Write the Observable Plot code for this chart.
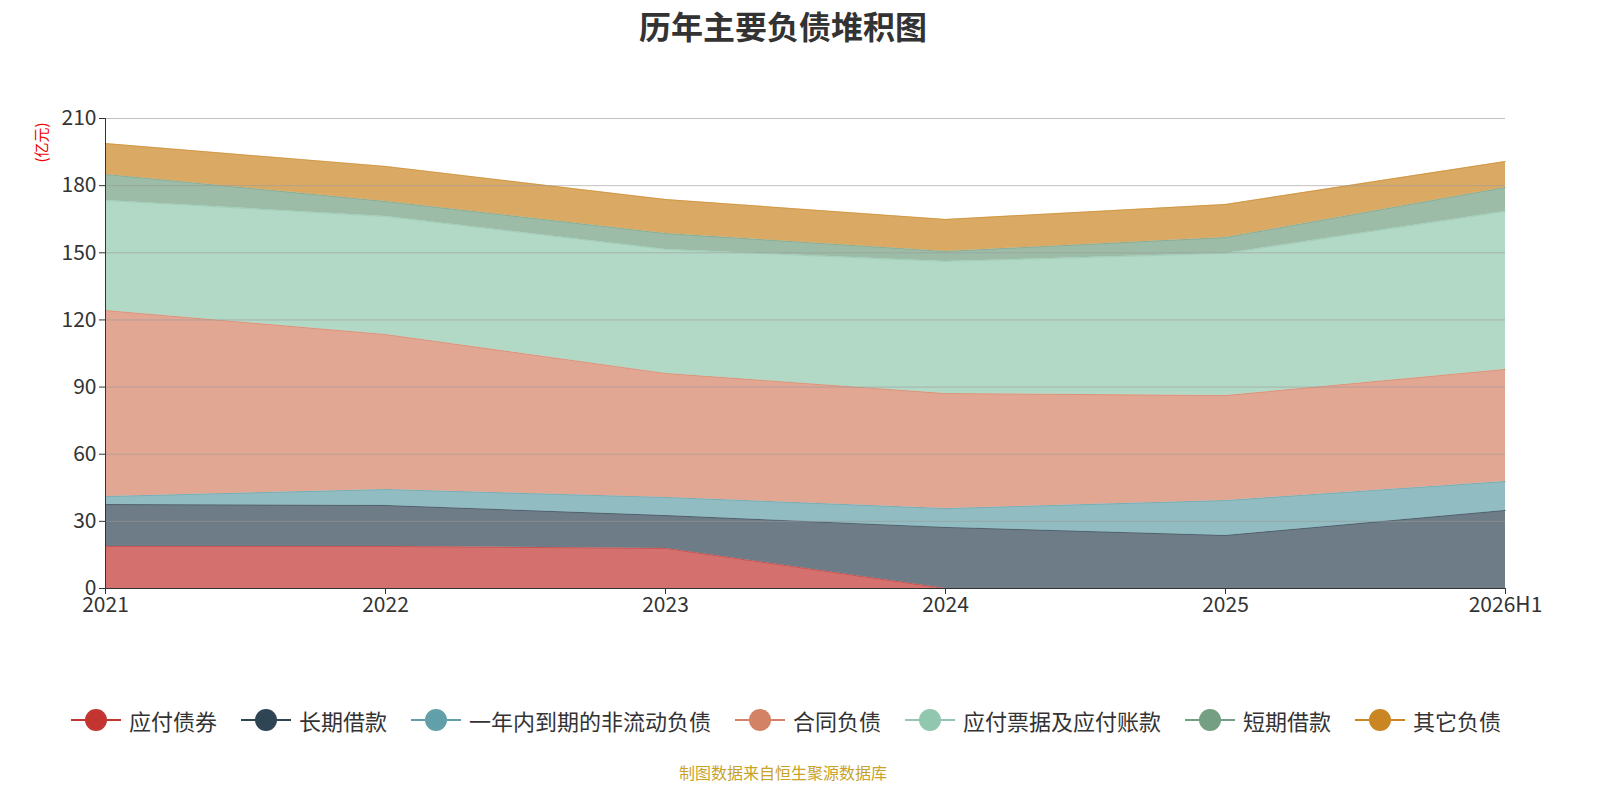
<!DOCTYPE html>
<html><head><meta charset="utf-8">
<script src="https://cdn.jsdelivr.net/npm/d3@7"></script>
<script src="https://cdn.jsdelivr.net/npm/@observablehq/plot@0.6"></script>
<style>
html,body{overflow:hidden}
body{margin:0;width:1600px;height:800px;position:relative;font-family:"Noto Sans CJK SC","Noto Sans",sans-serif;background:#fff}
#title{position:absolute;top:2px;left:0;width:1566px;text-align:center;font-size:32px;font-weight:bold;color:#333}
#chart{position:absolute;top:0;left:0}
#chart svg{max-width:none}
#legend{position:absolute;top:704px;left:0;width:1572px;display:flex;justify-content:center;gap:24px;font-size:22px;color:#333}
.li{display:flex;align-items:center;gap:8px}
#cap{position:absolute;top:760px;left:0;width:1566px;text-align:center;font-size:16px;color:#c9a227}
#ylab{position:absolute;left:20px;top:132px;color:#e00;font-size:15px;transform:rotate(-90deg);transform-origin:center;white-space:nowrap}
</style></head><body>
<div id="title">历年主要负债堆积图</div>
<div id="chart"></div>
<div id="ylab">(亿元)</div>
<div id="legend"></div>
<div id="cap">制图数据来自恒生聚源数据库</div>
<script>
const years=["2021","2022","2023","2024","2025","2026H1"];
const seriesNames=["应付债券","长期借款","一年内到期的非流动负债","合同负债","应付票据及应付账款","短期借款","其它负债"];
const colors=["#c23531","#2f4554","#61a0a8","#d48265","#91c7ae","#749f83","#ca8622"];
const s应付债券=[18.8,18.8,17.9,0,0,0];
const s长期借款=[18.7,18.3,14.7,27.3,23.7,34.9];
const s一年内=[3.6,7.1,8.1,8.4,15.6,12.9];
const s合同负债=[83.1,69.3,55.4,51.4,46.9,50.1];
const s应付票据=[49.2,52.7,55.4,59.0,63.5,70.6];
const s短期借款=[11.6,6.7,7.1,4.5,7.1,10.7];
const s其它=[13.8,15.7,15.2,14.3,14.8,11.6];
const vals=[s应付债券,s长期借款,s一年内,s合同负债,s应付票据,s短期借款,s其它];
const data=[];
seriesNames.forEach((s,i)=>years.forEach((y,j)=>data.push({year:y,series:s,value:vals[i][j]})));
const st={x:"year",y:"value",z:"series",order:seriesNames};
const plot=Plot.plot({
  width:1600,height:650,marginLeft:105,marginRight:95,marginTop:118,marginBottom:62,
  style:{fontSize:"20px",fontFamily:"Noto Sans CJK SC, sans-serif",color:"#333"},
  x:{type:"point",domain:years,padding:0,label:null,tickSize:6},
  y:{domain:[0,210],ticks:d3.range(0,211,30),label:null,tickSize:6},
  color:{domain:seriesNames,range:colors},
  marks:[
    Plot.areaY(data,{...st,fill:"series",fillOpacity:0.7}),
    Plot.lineY(data,Plot.stackY2({...st,stroke:"series",strokeOpacity:0.5,strokeWidth:1})),
    Plot.gridY(d3.range(30,211,30),{stroke:"#999",strokeOpacity:0.6}),
    Plot.ruleX([years[0]],{stroke:"#333"}),
    Plot.ruleY([0],{stroke:"#333"}),
    Plot.axisY({ticks:d3.range(0,211,30),tickSize:6,fontSize:21}),
    Plot.axisX({tickSize:6,fontSize:21})
  ]
});
document.getElementById("chart").appendChild(plot);
const lg=document.getElementById("legend");
seriesNames.forEach((s,i)=>{
  const d=document.createElement("div");d.className="li";
  d.innerHTML=`<svg width="50" height="24"><line x1="0" y1="12" x2="50" y2="12" stroke="${colors[i]}" stroke-width="2"/><circle cx="25" cy="12" r="11" fill="${colors[i]}"/></svg><span>${s}</span>`;
  lg.appendChild(d);
});
</script></body></html>
